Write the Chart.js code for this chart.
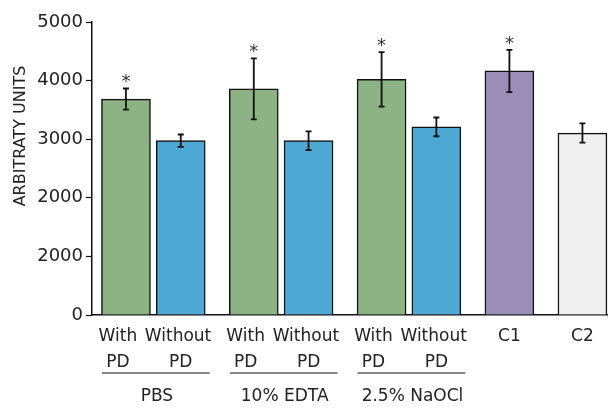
<!DOCTYPE html>
<html>
<head>
<meta charset="utf-8">
<script src="https://cdn.jsdelivr.net/npm/chart.js@4"></script>
<style>
  body { margin: 0; background: #fff; }
  #wrap { width: 608px; height: 408px; }
</style>
</head>
<body>
<div id="wrap"><canvas id="myChart" width="608" height="408"></canvas></div>
<script>
// values
// (trailing spaces nudge the labels left the way the original sets them)
const barLabels = [['With   ', 'PD   '], ['Without ', 'PD'], ['With   ', 'PD   '], ['Without ', 'PD'], ['With   ', 'PD   '], ['Without ', 'PD'], 'C1', 'C2'];
const barPos = [0, 3, 7, 10, 14, 17, 21, 25];
const values = [3685, 2975, 3860, 2975, 4020, 3210, 4165, 3105];
const errors = [180, 105, 520, 160, 465, 160, 360, 165];
const marked = [true, false, true, false, true, false, true, false];
const barColors = ['#8db283', '#4da8d4', '#8db283', '#4da8d4', '#8db283', '#4da8d4', '#9a8db8', '#efefef'];
const groups = [
    { name: 'PBS', from: 0, to: 1 },
    { name: '10% EDTA', from: 2, to: 3 },
    { name: '2.5% NaOCl', from: 4, to: 5 }
];
const yTickLabels = ['0', '2000', '2000', '3000', '4000', '5000'];
const yTitle = 'ARBITRATY UNITS';

const font = '"DejaVu Sans"';

const extras = {
    id: 'extras',
    afterDatasetsDraw(chart) {
        const ctx = chart.ctx;
        const x = chart.scales.x;
        const y = chart.scales.y;
        ctx.save();
        ctx.strokeStyle = '#111';
        ctx.fillStyle = '#333';
        ctx.lineWidth = 1.8;
        values.forEach((v, i) => {
            const px = x.getPixelForValue(barPos[i]);
            const top = y.getPixelForValue(v + errors[i]);
            const bot = y.getPixelForValue(v - errors[i]);
            ctx.beginPath();
            ctx.moveTo(px, top); ctx.lineTo(px, bot);
            ctx.moveTo(px - 3, top); ctx.lineTo(px + 3, top);
            ctx.moveTo(px - 3, bot); ctx.lineTo(px + 3, bot);
            ctx.stroke();
            if (marked[i]) {
                ctx.font = '18px ' + font;
                ctx.textAlign = 'center';
                ctx.textBaseline = 'middle';
                ctx.fillText('*', px, top - 6);
            }
        });
        // group underlines and names
        ctx.lineWidth = 1.2;
        ctx.font = '17px ' + font;
        ctx.textAlign = 'center';
        ctx.textBaseline = 'middle';
        ctx.fillStyle = '#222';
        groups.forEach(g => {
            const a = x.getPixelForValue(barPos[g.from]) - 24;
            const b = x.getPixelForValue(barPos[g.to]) + 29;
            ctx.beginPath();
            ctx.moveTo(a, 373); ctx.lineTo(b, 373);
            ctx.stroke();
            ctx.fillText(g.name, (a + b) / 2 + 1, 397);
        });
        // y axis title
        ctx.translate(21, 136);
        ctx.rotate(-Math.PI / 2);
        ctx.font = '16px ' + font;
        ctx.fillText(yTitle, 0, 0);
        ctx.restore();
    }
};

const ctx = document.getElementById('myChart').getContext('2d');
const myChart = new Chart(ctx, {
    type: 'bar',
    data: {
        datasets: [{
            data: values.map((v, i) => ({ x: barPos[i], y: v })),
            backgroundColor: barColors,
            borderColor: '#111',
            borderWidth: 1.5,
            barThickness: 49
        }]
    },
    options: {
        responsive: false,
        animation: false,
        layout: { padding: { top: 22, right: 0, left: 0, bottom: 0 } },
        plugins: {
            legend: { display: false },
            tooltip: { enabled: false }
        },
        scales: {
            x: {
                type: 'linear',
                offset: false,
                min: -1.86,
                max: 26.4,
                afterBuildTicks: (scale) => {
                    scale.ticks = barPos.map(v => ({ value: v }));
                },
                afterFit: (scale) => { scale.height = 93; },
                ticks: {
                    autoSkip: false,
                    maxRotation: 0,
                    padding: 8,
                    color: '#222',
                    font: { family: font, size: 17, lineHeight: 1.55 },
                    callback: (v, i) => barLabels[i]
                },
                grid: { drawOnChartArea: false, drawTicks: false },
                border: { color: '#111', width: 1.5 }
            },
            y: {
                min: 0,
                max: 5000,
                afterBuildTicks: (scale) => {
                    scale.ticks = yTickLabels.map((t, i) => ({ value: i * 1000 }));
                },
                afterFit: (scale) => { scale.width = 92; },
                ticks: {
                    color: '#222',
                    padding: 3,
                    font: { family: font, size: 18 },
                    callback: (v, i) => yTickLabels[i]
                },
                grid: { drawOnChartArea: false, drawTicks: true, tickLength: 6, tickColor: '#111', tickWidth: 1.2 },
                border: { color: '#111', width: 1.5 }
            }
        }
    },
    plugins: [extras]
});
</script>
</body>
</html>
